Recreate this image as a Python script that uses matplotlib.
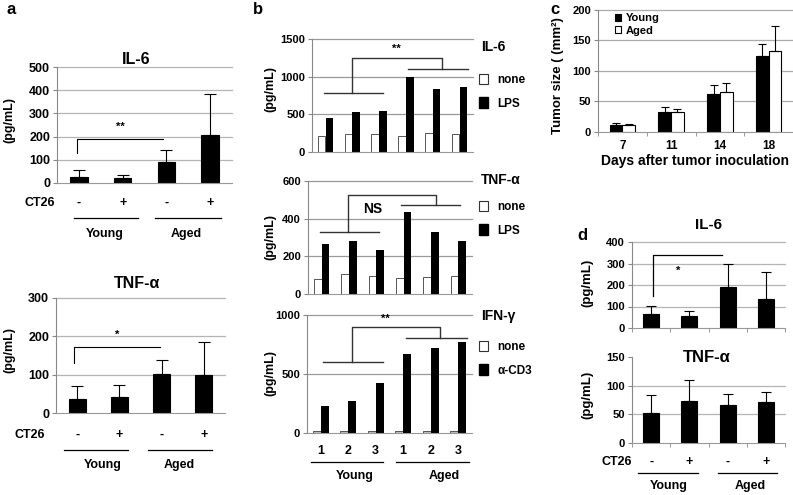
import numpy as np
import matplotlib
matplotlib.use('Agg')
import matplotlib.pyplot as plt
from matplotlib import transforms
from matplotlib.patches import Patch

plt.rcParams['font.family'] = ['Liberation Sans', 'DejaVu Sans']
plt.rcParams['font.weight'] = 'bold'

# Panel a: serum cytokines, young vs aged, with/without CT26
ct26_signs = ['-', '+', '-', '+']
groups = ['Young', 'Aged']
a_il6 = [26, 22, 90, 205]
a_il6_sd = [30, 12, 52, 180]
a_tnf = [37, 42, 102, 99]
a_tnf_sd = [33, 31, 36, 86]

# Panel b: stimulated cytokines per mouse (none vs stimulus)
b_ticks = ['1', '2', '3', '1', '2', '3']
b_il6_none = [215, 245, 245, 210, 255, 245]
b_il6_lps = [450, 525, 540, 995, 830, 860]
b_tnf_none = [81, 108, 97, 85, 90, 94]
b_tnf_lps = [263, 282, 231, 436, 327, 282]
b_ifn_none = [17, 17, 17, 17, 17, 17]
b_ifn_cd3 = [227, 273, 426, 665, 719, 767]

# Panel c: tumor size
days = ['7', '11', '14', '18']
c_young = [11.4, 32.7, 63, 124]
c_young_sd = [3.3, 8.2, 14.4, 21]
c_aged = [10.9, 33.2, 65, 132]
c_aged_sd = [1.6, 4.8, 16, 41]

# Panel d: tumor-bearing cytokines
d_il6 = [65, 54, 192, 134]
d_il6_sd = [39, 26, 105, 127]
d_tnf = [52, 74, 66, 71]
d_tnf_sd = [31, 36, 20, 18]

W, H = 793, 495
fig = plt.figure(figsize=(W / 100, H / 100), dpi=100)


def fx(px):
    return px / W


def fy(py):
    return 1 - py / H


def add_ax(l, t, r, b):
    return fig.add_axes([l / W, 1 - b / H, (r - l) / W, (b - t) / H])


def ftext(x, y, s, **kw):
    kw.setdefault('ha', 'center')
    kw.setdefault('va', 'center')
    fig.text(fx(x), fy(y), s, **kw)


def style(ax, ylim, step, grid='#b4b4b4', size=9, top_grid=True):
    ax.set_ylim(0, ylim)
    ticks = np.arange(0, ylim + 1, step)
    ax.set_yticks(ticks)
    for t in ticks[1:]:
        if t < ylim or top_grid:
            ax.axhline(t, color=grid, lw=0.9, zorder=0, clip_on=False)
    for s in ['top', 'right']:
        ax.spines[s].set_visible(False)
    ax.spines['left'].set_color('#888888')
    ax.spines['bottom'].set_color('#999999')
    ax.tick_params(axis='y', length=3, color='#888888', labelsize=size, pad=2)
    ax.tick_params(axis='x', length=0, labelbottom=False)


def bars_err(ax, x, vals, sd, width, color='black', cap=4):
    ax.bar(x, vals, width=width, color=color, edgecolor='black', lw=0.8, zorder=2)
    ax.errorbar(x, vals, yerr=[np.zeros(len(vals)), sd], fmt='none', ecolor='black',
                elinewidth=0.8, capsize=cap, capthick=0.8, zorder=3, clip_on=False)


def blend(ax):
    return transforms.blended_transform_factory(ax.transData, fig.transFigure)


def group_rows(ax, sign_y, line_y, label_y, young_span, aged_span, label_x, ct_x, size=9):
    tr = blend(ax)
    for i, s in enumerate(ct26_signs):
        ax.text(i, fy(sign_y), s, transform=tr, ha='center', va='center', fontsize=size)
    ftext(ct_x, sign_y, 'CT26', fontsize=size)
    for span in [young_span, aged_span]:
        ax.plot(span, [fy(line_y)] * 2, transform=tr, color='black', lw=0.9, clip_on=False)
    for gx, g in zip(label_x, groups):
        ax.text(gx, fy(label_y), g, transform=tr, ha='center', va='center', fontsize=size)


x4 = np.arange(4)
x6 = np.arange(6)

# ---- panel a ----
ftext(11, 10, 'a', fontsize=12)
ax = add_ax(57, 67, 232, 183)
bars_err(ax, x4, a_il6, a_il6_sd, 0.4)
ax.set_xlim(-0.5, 3.5)
style(ax, 500, 100)
ax.plot([-0.05, -0.05, 1.92], [129, 190, 190], color='black', lw=0.8, clip_on=False)
ax.text(0.95, 241, '**', ha='center', va='center', fontsize=8)
ftext(136, 59, 'IL-6', fontsize=11.5)
ftext(9, 120, '(pg/mL)', rotation=90, fontsize=9)
group_rows(ax, 203, 218, 234, [-0.12, 1.35], [1.75, 3.25], [0.6, 2.45], 40)

ax = add_ax(56, 298, 225, 413)
bars_err(ax, x4, a_tnf, a_tnf_sd, 0.4)
ax.set_xlim(-0.5, 3.5)
style(ax, 300, 100)
ax.plot([-0.07, -0.07, 1.96], [130, 172, 172], color='black', lw=0.8, clip_on=False)
ax.text(0.95, 203, '*', ha='center', va='center', fontsize=8)
ftext(137, 283, 'TNF-α', fontsize=11.5)
ftext(9, 350, '(pg/mL)', rotation=90, fontsize=9)
group_rows(ax, 435, 450, 465, [-0.31, 1.21], [1.68, 3.2], [0.6, 2.42], 30)

# ---- panel b ----
ftext(258, 10, 'b', fontsize=12)


def panel_b(box, none, stim, ylim, step, brk, sig, sig_xy, title, title_y, stim_label, leg_y,
            ylab_y, none_color='white', sig_size=8):
    ax = add_ax(*box)
    ax.bar(x6 - 0.145, none, width=0.28, color=none_color, edgecolor='#555555', lw=0.7,
           zorder=2)
    ax.bar(x6 + 0.145, stim, width=0.28, color='black', zorder=2)
    ax.set_xlim(-0.5, 5.5)
    style(ax, ylim, step, grid='#9a9a9a', size=8)
    (y0, y1, ytop, xl0, xl1, xa0, xa1, xt0, xt1) = brk
    c = '#333333'
    ax.plot([xl0, xl1], [y0, y0], color=c, lw=1, clip_on=False)
    ax.plot([xa0, xa1], [y1, y1], color=c, lw=1, clip_on=False)
    ax.plot([xt0, xt0, xt1, xt1], [y0, ytop, ytop, y1], color=c, lw=1, clip_on=False)
    ax.text(sig_xy[0], sig_xy[1], sig, ha='center', va='center', fontsize=sig_size)
    ftext(481, title_y, title, ha='left', fontsize=10)
    ftext(270, ylab_y, '(pg/mL)', rotation=90, fontsize=9)
    handles = [Patch(facecolor='white', edgecolor='#333333', lw=0.8, label='none'),
               Patch(facecolor='black', edgecolor='black', label=stim_label)]
    ax.legend(handles=handles, loc='upper left', bbox_to_anchor=(fx(479), fy(leg_y)),
              bbox_transform=fig.transFigure, frameon=False, fontsize=8.5,
              handlelength=0.75, handleheight=0.95, handletextpad=0.8,
              labelspacing=0.95, borderpad=0, borderaxespad=0)
    return ax


panel_b((312, 39, 473, 152), b_il6_none, b_il6_lps, 1500, 500,
        (787, 1101, 1252, -0.04, 2.16, 3.06, 5.3, 1.0, 4.33), '**', (2.65, 1370),
        'IL-6', 47, 'LPS', 74, 89)
panel_b((308, 181, 472, 294), b_tnf_none, b_tnf_lps, 600, 200,
        (327, 470, 526, -0.07, 2.08, 2.92, 5.07, 0.95, 4.2), 'NS', (1.86, 452),
        'TNF-α', 180, 'LPS', 201, 237, sig_size=10)
ax = panel_b((307, 315, 472, 432.7), b_ifn_none, b_ifn_cd3, 1000, 500,
             (602, 804, 898, 0.07, 2.26, 3.1, 5.3, 1.13, 4.34), '**', (2.34, 965),
             'IFN-γ', 316, 'α-CD3', 341, 373, none_color='#bbbbbb')
ax.set_xticks(x6)
ax.set_xticklabels(b_ticks)
ax.tick_params(axis='x', labelbottom=True, labelsize=9, pad=9)
tr = blend(ax)
ax.plot([-0.35, 2.25], [fy(462)] * 2, transform=tr, color='black', lw=0.9, clip_on=False)
ax.plot([2.75, 5.4], [fy(462)] * 2, transform=tr, color='black', lw=0.9, clip_on=False)
ax.text(1.25, fy(476), 'Young', transform=tr, ha='center', va='center', fontsize=9)
ax.text(4.5, fy(476), 'Aged', transform=tr, ha='center', va='center', fontsize=9)

# ---- panel c ----
ftext(555, 9, 'c', fontsize=12)
ax = add_ax(598, 10, 793, 132)
ax.bar(x4 - 0.13, c_young, width=0.26, color='black', edgecolor='black', lw=0.8,
       zorder=2, label='Young')
ax.bar(x4 + 0.13, c_aged, width=0.26, color='white', edgecolor='black', lw=0.8,
       zorder=2, label='Aged')
for off, v, s in [(-0.13, c_young, c_young_sd), (0.13, c_aged, c_aged_sd)]:
    ax.errorbar(x4 + off, v, yerr=[np.zeros(4), s], fmt='none', ecolor='black',
                elinewidth=0.8, capsize=3, capthick=0.8, zorder=3)
ax.set_xlim(-0.5, 3.5)
style(ax, 200, 50, grid='#aaaaaa', size=8)
ax.set_xticks(x4)
ax.set_xticklabels(days)
ax.set_xticks(np.arange(-0.5, 4, 1), minor=True)
ax.tick_params(axis='x', which='major', labelbottom=True, labelsize=8.5, pad=6)
ax.tick_params(axis='x', which='minor', length=3, color='#888888')
ax.legend(loc='upper left', bbox_to_anchor=(fx(615), fy(13)), bbox_transform=fig.transFigure,
          frameon=False, fontsize=8, handlelength=0.55, handleheight=0.6,
          handletextpad=0.45, labelspacing=0.25, borderpad=0, borderaxespad=0)
ftext(558, 76, 'Tumor size ( (mm²)', rotation=90, fontsize=9.5)
ftext(695, 161, 'Days after tumor inoculation', fontsize=10)

# ---- panel d ----
ftext(582, 235, 'd', fontsize=12)
ax = add_ax(632, 242, 785, 328)
bars_err(ax, x4, d_il6, d_il6_sd, 0.42, cap=3.5)
ax.set_xlim(-0.5, 3.5)
style(ax, 400, 100, size=8)
ax.set_xticks(np.arange(-0.5, 4, 1), minor=True)
ax.tick_params(axis='x', which='minor', length=3, color='#888888')
ax.plot([0.05, 0.05, 1.84], [151, 339, 339], color='black', lw=0.9, clip_on=False)
ax.text(0.71, 266, '*', ha='center', va='center', fontsize=8)
ftext(708, 225, 'IL-6', fontsize=11)
ftext(587, 283, '(pg/mL)', rotation=90, fontsize=9.5)

ax = add_ax(632, 357, 785, 443)
bars_err(ax, x4, d_tnf, d_tnf_sd, 0.42, cap=3.5)
ax.set_xlim(-0.5, 3.5)
style(ax, 150, 50, size=8, top_grid=False)
ax.set_xticks(np.arange(-0.5, 4, 1), minor=True)
ax.tick_params(axis='x', which='minor', length=3, color='#888888')
ftext(707, 357, 'TNF-α', fontsize=12)
ftext(587, 395, '(pg/mL)', rotation=90, fontsize=9.5)
group_rows(ax, 462, 473, 486, [-0.34, 1.22], [1.74, 3.3], [0.45, 2.6], 617, size=9)

fig.savefig('out.png', dpi=100)
